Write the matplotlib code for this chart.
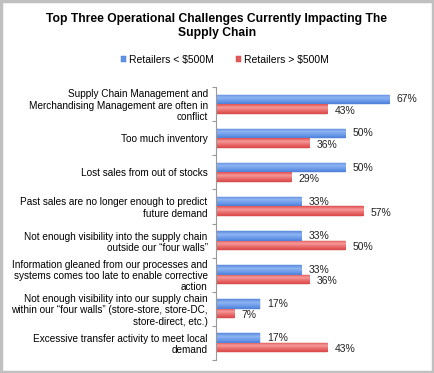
import matplotlib
matplotlib.use("Agg")
import matplotlib.pyplot as plt
from matplotlib.patches import Rectangle
from matplotlib.colors import LinearSegmentedColormap
import numpy as np

plt.rcParams['font.family'] = ['Liberation Sans', 'DejaVu Sans']

categories = [
    "Supply Chain Management and\nMerchandising Management are often in\nconflict",
    "Too much inventory",
    "Lost sales from out of stocks",
    "Past sales are no longer enough to predict\nfuture demand",
    "Not enough visibility into the supply chain\noutside our \u201cfour walls\u201d",
    "Information gleaned from our processes and\nsystems comes too late to enable corrective\naction",
    "Not enough visibility into our supply chain\nwithin our \u201cfour walls\u201d (store-store, store-DC,\nstore-direct, etc.)",
    "Excessive transfer activity to meet local\ndemand",
]
small = [67, 50, 50, 33, 33, 33, 17, 17]
large = [43, 36, 29, 57, 50, 36, 7, 43]
series_names = ["Retailers < $500M", "Retailers > $500M"]
title = "Top Three Operational Challenges Currently Impacting The\nSupply Chain"

W, H = 434, 373
fig = plt.figure(figsize=(W / 100, H / 100), dpi=100)

left, right, top, bottom = 216, 423, 87, 360
ax = fig.add_axes([left / W, 1 - bottom / H, (right - left) / W, (bottom - top) / H])

n = len(categories)
y = np.arange(n)
bh = 0.28
blue = "#5f93e4"
red = "#e45a5a"
bars1 = ax.barh(y - bh / 2, small, height=bh, color=blue, edgecolor="#4a7ad0", linewidth=0.3, label=series_names[0])
bars2 = ax.barh(y + bh / 2, large, height=bh, color=red, edgecolor="#c84444", linewidth=0.3, label=series_names[1])

cm_blue = LinearSegmentedColormap.from_list("b", ["#5a8be0", "#8fb5f2", "#6d9ceb", "#4f80d8"])
cm_red = LinearSegmentedColormap.from_list("r", ["#e45050", "#f59a9a", "#ea6a6a", "#d84848"])
grad = np.linspace(0, 1, 32).reshape(-1, 1)
for bars, cmap in ((bars1, cm_blue), (bars2, cm_red)):
    for b in bars:
        x0, y0, w, h = b.get_x(), b.get_y(), b.get_width(), b.get_height()
        im = ax.imshow(grad, cmap=cmap, aspect="auto", extent=(x0, x0 + w, y0 + h, y0),
                       origin="upper", zorder=b.get_zorder() + 0.1, interpolation="bilinear")
        im.set_clip_path(b)

for b, v in zip(bars1, small):
    ax.text(v + 2.8, b.get_y() + b.get_height() / 2, f"{v}%", va="center", ha="left", fontsize=7.5, color="#222222")
for b, v in zip(bars2, large):
    ax.text(v + 2.8, b.get_y() + b.get_height() / 2 + 0.05, f"{v}%", va="center", ha="left", fontsize=7.5, color="#222222")

ax.set_xlim(0, 80)
ax.set_ylim(n - 0.5, -0.5)
ax.set_yticks(y)
ax.set_yticklabels(categories, fontsize=7.2, linespacing=1.15)
ax.set_yticks(np.arange(-0.5, n, 1), minor=True)
ax.tick_params(axis="y", which="major", length=0, pad=6)
ax.tick_params(axis="y", which="minor", length=3, color="#999999", width=0.8)
ax.set_xticks([])
for s in ["top", "right", "bottom"]:
    ax.spines[s].set_visible(False)
ax.spines["left"].set_color("#999999")
ax.spines["left"].set_linewidth(0.8)

fig.text(0.5, 1 - 26 / H, title, ha="center", va="center", fontsize=8.7, fontweight="bold", linespacing=1.2)

leg = fig.legend(handles=[bars1, bars2], labels=series_names, loc="center",
                 bbox_to_anchor=(225 / W, 1 - 60 / H), ncol=2, frameon=False,
                 fontsize=7.5, handlelength=0.45, handleheight=0.45, handletextpad=0.3,
                 columnspacing=2.2)

fig.patches.append(Rectangle((1.25 / W, 1.25 / H), (W - 2.5) / W, (H - 2.5) / H, transform=fig.transFigure,
                             fill=False, edgecolor="#c0c0c0", linewidth=2.5))

fig.savefig("out.png", dpi=100, facecolor="white")
